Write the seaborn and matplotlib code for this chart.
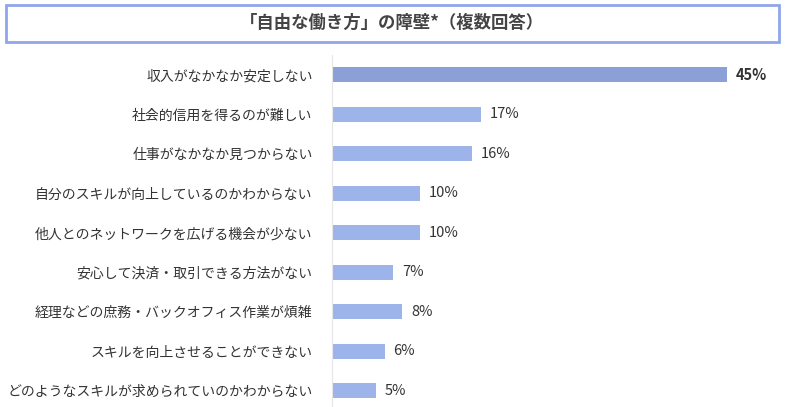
import matplotlib.pyplot as plt
import seaborn as sns
import pandas as pd
from matplotlib.patches import Rectangle

plt.rcParams['font.family'] = 'Noto Sans CJK JP'

# data
labels = ['収入がなかなか安定しない', '社会的信用を得るのが難しい', '仕事がなかなか見つからない',
          '自分のスキルが向上しているのかわからない', '他人とのネットワークを広げる機会が少ない',
          '安心して決済・取引できる方法がない', '経理などの庶務・バックオフィス作業が煩雑',
          'スキルを向上させることができない', 'どのようなスキルが求められていのかわからない']
values = [45, 17, 16, 10, 10, 7, 8, 6, 5]
title = '「自由な働き方」の障壁*（複数回答）'

df = pd.DataFrame({'label': labels, 'value': values})
colors = ['#7f9be2'] + ['#90aff8'] * (len(values) - 1)

fig = plt.figure(figsize=(8, 4.07), dpi=100)
ax = fig.add_axes([0.415, -0.008, 0.57, 0.873])
sns.barplot(data=df, y='label', x='value', hue='label', palette=colors,
            legend=False, width=0.38, ax=ax, orient='h')
ax.set_xlim(0, 52)
ax.set_xlabel('')
ax.set_ylabel('')
ax.set_xticks([])
ax.tick_params(axis='y', length=0, labelsize=10, colors='#333333', pad=14)
for s in ['top', 'right', 'bottom']:
    ax.spines[s].set_visible(False)
ax.spines['left'].set_color('#e6e6e6')
for i, v in enumerate(values):
    ax.text(v + 1, i, f'{v}%', va='center', ha='left', fontsize=10.5,
            color='#333333', fontweight='bold' if i == 0 else 'normal')

fig.patches.append(Rectangle((0.008, 0.898), 0.966, 0.09, transform=fig.transFigure,
                             fill=False, edgecolor='#8fa6ea', linewidth=2))
fig.text(0.49, 0.943, title, ha='center', va='center', fontsize=12.5,
         fontweight='bold', color='#444444')

fig.savefig('out.png', dpi=100)
